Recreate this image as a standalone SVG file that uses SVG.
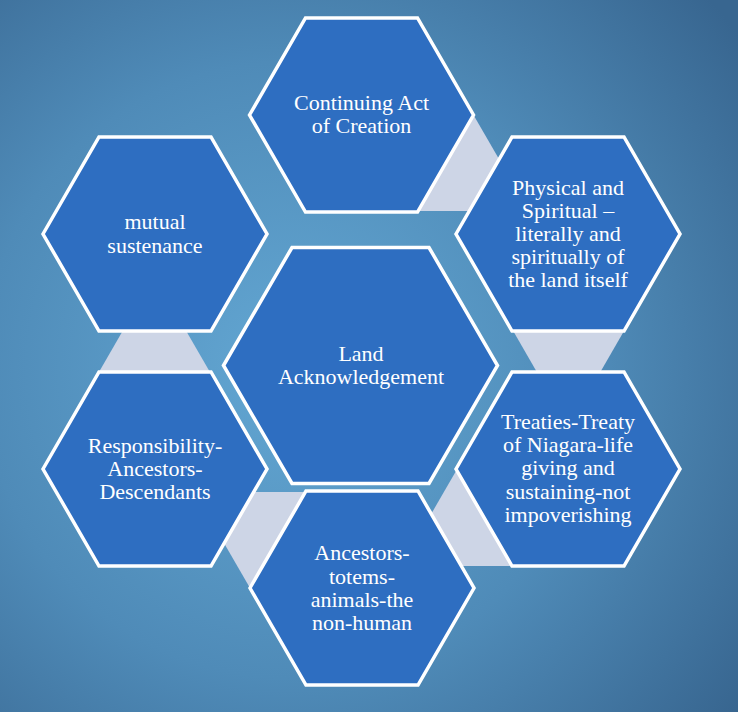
<svg xmlns="http://www.w3.org/2000/svg" xmlns:xlink="http://www.w3.org/1999/xlink" width="738" height="712" viewBox="0 0 738 712">
  <style>
    .hex { fill: #2E6EC1; stroke: #FFFFFF; stroke-width: 3.5; stroke-linejoin: miter; }
    .conn { fill: #CDD5E6; stroke: none; }
    .lbl { font-family: "Liberation Serif", "Times New Roman", serif; font-size: 22px; fill: #FFFFFF; text-anchor: middle; }
  </style>
  <defs>
    <radialGradient id="bg" gradientUnits="userSpaceOnUse" cx="290" cy="370" r="560">
      <stop offset="0" stop-color="#63A7D3"/>
      <stop offset="0.55" stop-color="#4F8BB8"/>
      <stop offset="1" stop-color="#386690"/>
    </radialGradient>
    <polygon id="hexS" points="-112,0 -56,-97 56,-97 112,0 56,97 -56,97"/>
    <polygon id="hexL" points="-137,0 -68.5,-118 68.5,-118 137,0 68.5,118 -68.5,118"/>
    <polygon id="connShape" points="112,0 145,57 125,96 40,96 40,0"/>
  </defs>

  <rect x="0" y="0" width="738" height="712" fill="url(#bg)"/>

  <g id="connectors">
    <use xlink:href="#connShape" class="conn" transform="translate(361.5,115) rotate(0)"/>
    <use xlink:href="#connShape" class="conn" transform="translate(568,234) rotate(60)"/>
    <use xlink:href="#connShape" class="conn" transform="translate(568,469) rotate(120)"/>
    <use xlink:href="#connShape" class="conn" transform="translate(362,588) rotate(180)"/>
    <use xlink:href="#connShape" class="conn" transform="translate(155,469) rotate(240)"/>
  </g>

  <g id="node-center">
    <use xlink:href="#hexL" class="hex" transform="translate(360.5,365.5)"/>
    <text class="lbl" x="361" y="361">Land</text>
    <text class="lbl" x="361" y="384">Acknowledgement</text>
  </g>

  <g id="node-top">
    <use xlink:href="#hexS" class="hex" transform="translate(361.5,115)"/>
    <text class="lbl" x="361.5" y="110">Continuing Act</text>
    <text class="lbl" x="361.5" y="133">of Creation</text>
  </g>

  <g id="node-topright">
    <use xlink:href="#hexS" class="hex" transform="translate(568,234)"/>
    <text class="lbl" x="568" y="195">Physical and</text>
    <text class="lbl" x="568" y="218">Spiritual –</text>
    <text class="lbl" x="568" y="241">literally and</text>
    <text class="lbl" x="568" y="264">spiritually of</text>
    <text class="lbl" x="568" y="287">the land itself</text>
  </g>

  <g id="node-bottomright">
    <use xlink:href="#hexS" class="hex" transform="translate(568,469)"/>
    <text class="lbl" x="568" y="428.5">Treaties-Treaty</text>
    <text class="lbl" x="568" y="451.5">of Niagara-life</text>
    <text class="lbl" x="568" y="475">giving and</text>
    <text class="lbl" x="568" y="498.5">sustaining-not</text>
    <text class="lbl" x="568" y="521.5">impoverishing</text>
  </g>

  <g id="node-bottom">
    <use xlink:href="#hexS" class="hex" transform="translate(362,588)"/>
    <text class="lbl" x="362" y="560">Ancestors-</text>
    <text class="lbl" x="362" y="583.5">totems-</text>
    <text class="lbl" x="362" y="606.5">animals-the</text>
    <text class="lbl" x="362" y="629.5">non-human</text>
  </g>

  <g id="node-bottomleft">
    <use xlink:href="#hexS" class="hex" transform="translate(155,469)"/>
    <text class="lbl" x="155" y="453">Responsibility-</text>
    <text class="lbl" x="155" y="476">Ancestors-</text>
    <text class="lbl" x="155" y="498.5">Descendants</text>
  </g>

  <g id="node-topleft">
    <use xlink:href="#hexS" class="hex" transform="translate(155,234)"/>
    <text class="lbl" x="155" y="229">mutual</text>
    <text class="lbl" x="155" y="252.5">sustenance</text>
  </g>
</svg>
